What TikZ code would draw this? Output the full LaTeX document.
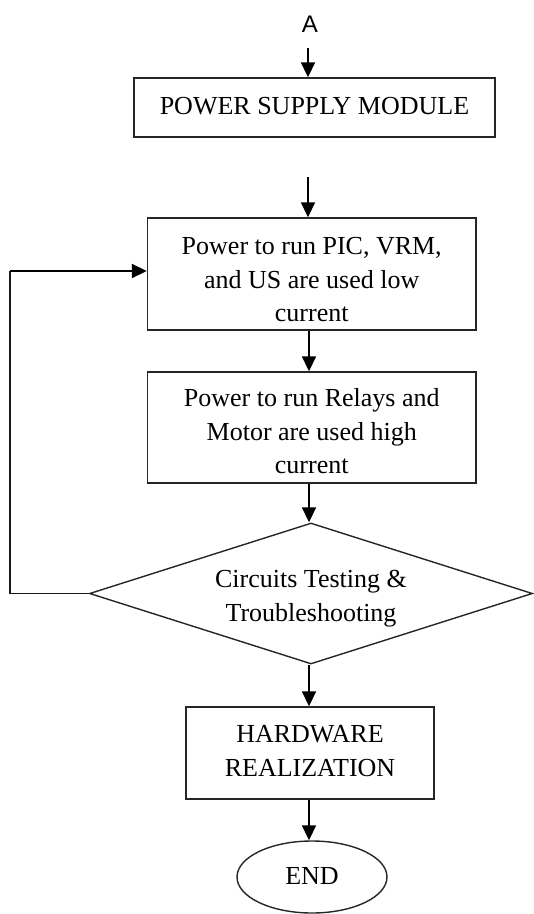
\documentclass[tikz,border=0pt]{standalone}
\usepackage{fontspec}
\setmainfont{Liberation Serif}
\newfontfamily\labelsans{Liberation Sans}
\usetikzlibrary{shapes.geometric,arrows.meta}

\tikzset{
  outline/.style={draw=black!85, line width=1.4pt, inner sep=0pt},
  procbox/.style={outline, rectangle},
  decision/.style={outline, diamond, aspect=3.14},
  terminal/.style={outline, ellipse},
  boxtext/.style={inner sep=0pt, align=center, font=\fontsize{26}{33.5}\selectfont},
  arr/.style={draw=black, line width=1.8pt, -{Triangle[length=15pt,width=14pt]}},
  loopline/.style={draw=black!90, line width=1.3pt}
}

\begin{document}
\begin{tikzpicture}[x=1pt,y=-1pt]
  \useasboundingbox (0,0) rectangle (534,914);

  % entry label
  \node[font=\labelsans\fontsize{24}{28}\selectfont] (lblA) at (310,24) {A};
  \coordinate (inA) at (308,48);
  \coordinate (in2) at (308,177);
  \coordinate (ax) at (309,0);

  % process steps (outlines)
  \node[procbox, minimum width=361pt, minimum height=59pt] (psm) at (314.5,107.5) {};
  \node[procbox, minimum width=328.5pt, minimum height=112pt] (low) at (311.75,274) {};
  \node[procbox, minimum width=328.5pt, minimum height=111pt] (high) at (311.75,427.5) {};
  \node[decision, minimum width=443pt, minimum height=141pt] (test) at (311,593.5) {};
  \node[procbox, minimum width=248pt, minimum height=92pt] (hw) at (310,753) {};
  \node[terminal, minimum width=150pt, minimum height=72pt] (end) at (312,877) {};

  % step texts
  \node[boxtext] (psmtxt) at ([yshift=1pt]psm.center) {POWER SUPPLY MODULE};
  \node[boxtext] (lowtxt) at ([yshift=-6pt]low.center)
    {Power to run PIC, VRM,\\and US are used low\\current};
  \node[boxtext] (hightxt) at ([yshift=-4pt]high.center)
    {Power to run Relays and\\Motor are used high\\current};
  \node[boxtext] (testtxt) at ([yshift=-5pt]test.center)
    {Circuits Testing \&\\Troubleshooting};
  \node[boxtext] (hwtxt) at ([yshift=2pt]hw.center) {HARDWARE\\REALIZATION};
  \node[boxtext] (endtxt) at ([yshift=1pt]end.center) {END};

  % connectors
  \draw[arr] (inA) -- (psm.north -| inA);
  \draw[arr] (in2) -- (low.north -| in2);
  \draw[arr] (low.south -| ax) -- (high.north -| ax);
  \draw[arr] (high.south -| ax) -- (test.north -| ax);
  \draw[arr] (test.south -| ax) -- (hw.north -| ax);
  \draw[arr] (hw.south -| ax) -- (end.north -| ax);

  % feedback loop from the test back to the low-current step
  \coordinate (fb) at (10,271);
  \draw[loopline] (test.west) -| (fb);
  \draw[arr] (fb) -- (fb -| low.west);
\end{tikzpicture}
\end{document}
